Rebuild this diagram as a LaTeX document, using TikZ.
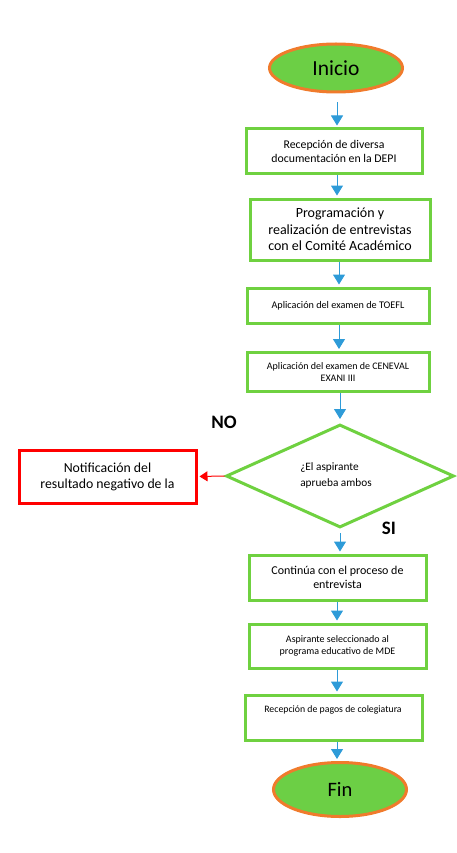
\documentclass[tikz,border=0pt]{standalone}
\usepackage{fontspec}
\setmainfont{Carlito}
\usetikzlibrary{shapes.geometric,arrows.meta}
\definecolor{gfill}{HTML}{6CCF45}
\definecolor{gline}{HTML}{6FD140}
\definecolor{oline}{HTML}{F07B2C}
\definecolor{ablue}{HTML}{2E9BD8}
\definecolor{rline}{HTML}{FF0000}
\tikzset{
  term/.style={ellipse, draw=oline, fill=gfill, line width=3pt, inner sep=0pt, minimum width=133pt, minimum height=48pt},
  procbox/.style={rectangle, draw=gline, fill=white, line width=3pt, inner sep=0pt, align=center},
  decbox/.style={diamond, draw=gline, fill=white, line width=3pt, inner sep=0pt, minimum width=228pt, minimum height=103pt},
  flow/.style={draw=ablue, line width=1pt, -{Triangle[width=12pt,length=10pt]}, shorten >=2pt},
  noflow/.style={draw=rline, line width=1pt, -{Triangle[width=10pt,length=8pt]}, shorten >=2pt},
  lbl/.style={font=\fontsize{19}{22}\selectfont\bfseries}
}
\begin{document}
\begin{tikzpicture}[x=1pt,y=-1pt]
\useasboundingbox (0,0) rectangle (456,853);
\node[term, font=\fontsize{21.5}{24}\selectfont] (ini) at (336,68) {Inicio};
\node[procbox, minimum width=176pt, minimum height=45pt, font=\fontsize{11.8}{13.5}\selectfont] (b1) at (334,151.5) {Recepción de diversa\\documentación en la DEPI};
\node[procbox, minimum width=180pt, minimum height=61pt, font=\fontsize{14}{16.5}\selectfont] (b2) at (340,229.5) {Programación y\\realización de entrevistas\\con el Comité Académico};
\node[procbox, minimum width=182pt, minimum height=35pt, font=\fontsize{10.2}{12}\selectfont] (b3) at (338,305.5) {Aplicación del examen de TOEFL};
\node[procbox, minimum width=182pt, minimum height=39pt, font=\fontsize{10}{12.5}\selectfont] (b4) at (338,372) {Aplicación del examen de CENEVAL\\EXANI III};
\node[decbox] (d) at (340,476) {};
\node[font=\fontsize{11.3}{16}\selectfont, align=left] (dt) at (336,475) {¿El aspirante\\aprueba ambos};
\node[rectangle, draw=rline, fill=white, line width=3pt, minimum width=177pt, minimum height=53pt, inner sep=0pt, align=center, font=\fontsize{13.8}{16}\selectfont] (nr) at (107.5,476.5) {Notificación del\\resultado negativo de la};
\node[lbl] (no) at (224,422) {NO};
\node[lbl] (si) at (389,528) {SI};
\node[procbox, minimum width=177pt, minimum height=45pt, font=\fontsize{12}{13.5}\selectfont] (b5) at (337.5,577.5) {Continúa con el proceso de\\entrevista};
\node[procbox, minimum width=177pt, minimum height=44pt, font=\fontsize{10}{12}\selectfont] (b6) at (337.5,646) {Aspirante seleccionado al\\programa educativo de MDE};
\node[procbox, minimum width=177pt, minimum height=45pt] (b7) at (333.5,717.5) {};
\node[font=\fontsize{9.8}{12}\selectfont] (b7t) at (333,710) {Recepción de pagos de colegiatura};
\node[term, minimum height=54pt, font=\fontsize{20.5}{24}\selectfont] (fin) at (340,789.5) {Fin};
\draw[flow, shorten <=9pt] (ini.south -| 337,0) -- (337,0 |- b1.north);
\draw[flow] (b1.south -| 337,0) -- (337,0 |- b2.north);
\draw[flow] (b2.south -| 339,0) -- (339,0 |- b3.north);
\draw[flow] (b3.south -| 339,0) -- (339,0 |- b4.north);
\draw[flow, shorten >=4pt] (b4.south -| 340,0) -- (d.north);
\draw[flow, shorten <=4pt] (d.south) -- (340,0 |- b5.north);
\draw[flow] (b5.south -| 337,0) -- (337,0 |- b6.north);
\draw[flow] (b6.south -| 337,0) -- (337,0 |- b7.north);
\draw[flow] (b7.south -| 337,0) -- (337,0 |- fin.north);
\draw[noflow] (d.west) -- (nr.east);
\end{tikzpicture}
\end{document}
